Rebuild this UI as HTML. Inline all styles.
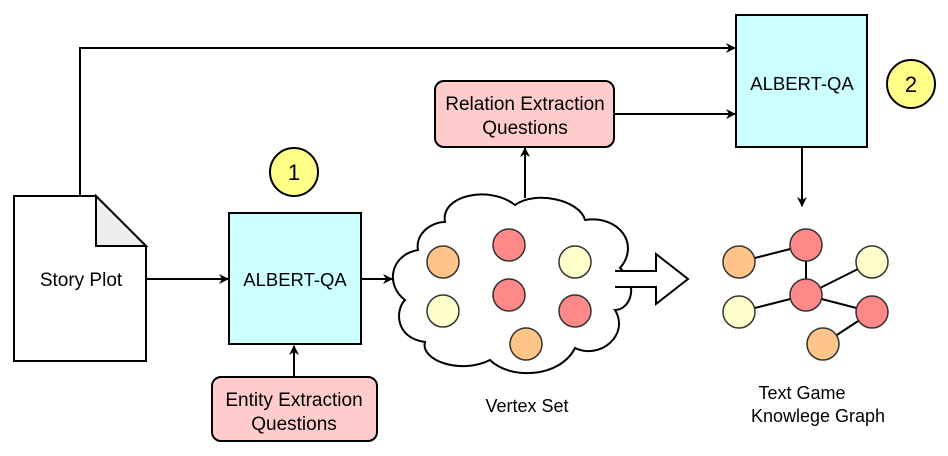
<!DOCTYPE html>
<html><head><style>body{margin:0;background:#fff}svg{display:block}</style></head><body>
<svg width="948" height="456" viewBox="0 0 948 456" xmlns="http://www.w3.org/2000/svg" font-family="Liberation Sans, sans-serif">
<defs><marker id="a" markerWidth="10" markerHeight="10" refX="9" refY="5" orient="auto" markerUnits="userSpaceOnUse"><path d="M0,0 L10,5 L0,10 L3,5 Z" fill="#000"/></marker></defs>
<g stroke="#000" stroke-width="2" fill="none">
<path d="M80,196 V48 H735" marker-end="url(#a)"/>
<path d="M614,114 H735" marker-end="url(#a)"/>
<path d="M525,198 V148" marker-end="url(#a)"/>
<path d="M802,147 V206" marker-end="url(#a)"/>
<path d="M146,279 H228" marker-end="url(#a)"/>
<path d="M361,279 H392" marker-end="url(#a)"/>
<path d="M294,377 V346" marker-end="url(#a)"/>
</g>
<path d="M14,196 H96 L146,246 V361 H14 Z" fill="#fff" stroke="#000" stroke-width="2"/>
<path d="M96,196 V246 H146 Z" fill="#eee" stroke="#000" stroke-width="2"/>
<text x="81" y="286" font-size="19" text-anchor="middle">Story Plot</text>
<rect x="229" y="213" width="132" height="131" fill="#ccffff" stroke="#000" stroke-width="2"/>
<text x="295" y="286" font-size="18.5" text-anchor="middle">ALBERT-QA</text>
<rect x="736" y="15" width="131" height="132" fill="#ccffff" stroke="#000" stroke-width="2"/>
<text x="802" y="90" font-size="18.5" text-anchor="middle">ALBERT-QA</text>
<circle cx="294" cy="172" r="24" fill="#ffff88" stroke="#000" stroke-width="2"/>
<text x="294" y="180" font-size="22" text-anchor="middle">1</text>
<circle cx="911" cy="84" r="24" fill="#ffff88" stroke="#000" stroke-width="2"/>
<text x="911" y="92" font-size="22" text-anchor="middle">2</text>
<rect x="435" y="81" width="179" height="66" rx="9" fill="#ffcccc" stroke="#000" stroke-width="2"/>
<text x="525" y="110" font-size="19" text-anchor="middle">Relation Extraction</text>
<text x="525" y="134" font-size="19" text-anchor="middle">Questions</text>
<rect x="212" y="377" width="165" height="64" rx="9" fill="#ffcccc" stroke="#000" stroke-width="2"/>
<text x="294" y="406" font-size="19" text-anchor="middle">Entity Extraction</text>
<text x="294" y="430" font-size="19" text-anchor="middle">Questions</text>
<path d="M445,222 C440,195 490,185 515,205 C535,190 580,200 585,220 C620,215 640,245 620,268 C640,285 630,310 615,310 C630,335 600,360 575,348 C560,378 510,380 490,360 C460,375 420,360 425,342 C395,338 395,310 405,300 C385,285 390,255 418,250 C415,235 430,222 445,222 Z" fill="#fff" stroke="#000" stroke-width="2"/>
<path d="M615,271 H656 V254 L688,279 L656,304 V287 H615" fill="#fff" stroke="#000" stroke-width="2"/>
<g stroke="#333" stroke-width="1.5">
<circle cx="443" cy="262" r="16" fill="#ffc488"/>
<circle cx="509" cy="245" r="16" fill="#ff8888"/>
<circle cx="575" cy="262" r="16" fill="#ffffcc"/>
<circle cx="443" cy="311" r="16" fill="#ffffcc"/>
<circle cx="509" cy="295" r="16" fill="#ff8888"/>
<circle cx="575" cy="311" r="16" fill="#ff8888"/>
<circle cx="526" cy="344" r="16" fill="#ffc488"/>
</g>
<g stroke="#000" stroke-width="2">
<line x1="739" y1="262" x2="806" y2="245"/><line x1="806" y1="245" x2="806" y2="295"/>
<line x1="806" y1="295" x2="872" y2="262"/><line x1="806" y1="295" x2="739" y2="312"/>
<line x1="806" y1="295" x2="872" y2="312"/><line x1="872" y1="312" x2="823" y2="344"/>
</g>
<g stroke="#333" stroke-width="1.5">
<circle cx="739" cy="262" r="16" fill="#ffc488"/>
<circle cx="806" cy="245" r="16" fill="#ff8888"/>
<circle cx="872" cy="262" r="16" fill="#ffffcc"/>
<circle cx="739" cy="312" r="16" fill="#ffffcc"/>
<circle cx="806" cy="295" r="16" fill="#ff8888"/>
<circle cx="872" cy="312" r="16" fill="#ff8888"/>
<circle cx="823" cy="344" r="16" fill="#ffc488"/>
</g>
<text x="527" y="412" font-size="18" text-anchor="middle">Vertex Set</text>
<text x="802" y="399" font-size="18" text-anchor="middle">Text Game</text>
<text x="818" y="422" font-size="18" text-anchor="middle">Knowlege Graph</text>
</svg>
</body></html>
